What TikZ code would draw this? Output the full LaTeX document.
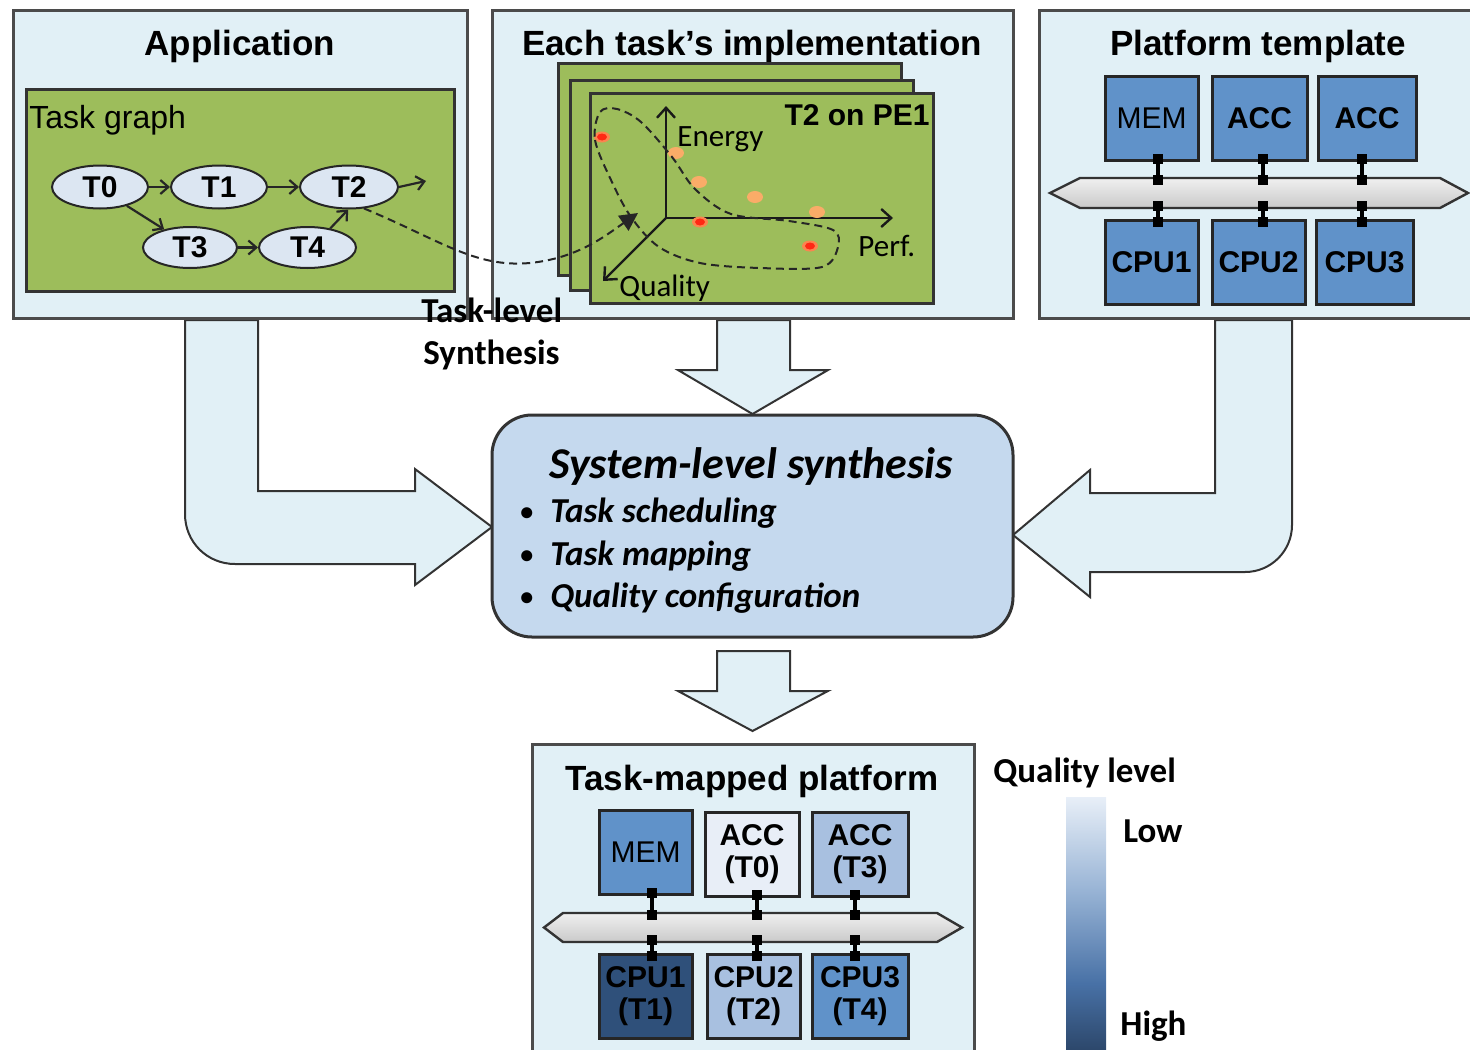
\documentclass[tikz,border=0pt]{standalone}
\usepackage{fontspec}
\setmainfont{Liberation Sans}
\newfontfamily\calib{Carlito}
\usetikzlibrary{shapes.geometric,arrows.meta,calc}

\definecolor{panelfill}{RGB}{225,240,246}
\definecolor{panelline}{RGB}{75,75,75}
\definecolor{leafgreen}{RGB}{157,189,91}
\definecolor{ellfill}{RGB}{220,230,242}
\definecolor{peblue}{RGB}{96,146,201}
\definecolor{pelight}{RGB}{232,238,247}
\definecolor{pemid}{RGB}{168,192,224}
\definecolor{pedark}{RGB}{47,80,122}
\definecolor{sysfill}{RGB}{197,217,238}
\definecolor{dotorange}{RGB}{250,172,104}
\definecolor{dotred}{RGB}{255,40,20}
\definecolor{qlow}{RGB}{232,239,248}
\definecolor{qmid}{RGB}{150,178,212}
\definecolor{qdeep}{RGB}{72,113,166}
\definecolor{qdark}{RGB}{45,72,108}

% vertical gradient of the quality scale (TikZ maps 25bp..75bp onto the path)
\pgfdeclareverticalshading{qbar}{100bp}{color(0bp)=(qdark); color(25bp)=(qdark); color(38bp)=(qdeep);
  color(56bp)=(qmid); color(75bp)=(qlow); color(100bp)=(qlow)}

\begin{document}
\begin{tikzpicture}[x=0.5pt,y=-0.5pt,
  panel/.style={draw=panelline,line width=1.5pt,fill=panelfill},
  ptitle/.style={font=\bfseries\fontsize{17.5}{20}\selectfont,inner sep=0,anchor=base},
  greenbox/.style={draw=black!80,line width=1.5pt,fill=leafgreen},
  task/.style={ellipse,draw=black!85,line width=1pt,fill=ellfill,minimum height=21.5pt,inner sep=0,
    font=\bfseries\fontsize{15}{15}\selectfont},
  tgarrow/.style={-{Straight Barb[length=4pt,width=7pt]},line width=1.1pt,black!85},
  axis/.style={-{Straight Barb[length=5pt,width=9pt]},line width=1.2pt,black!90},
  axlabel/.style={font=\calib\fontsize{15.5}{17}\selectfont,inner sep=0,anchor=base west},
  pebox/.style={draw=black!85,line width=1.5pt,fill=peblue,minimum height=42pt,inner sep=0,align=center,
    font=\bfseries\fontsize{15}{16}\selectfont},
  bus/.style={draw=black!80,line width=1.2pt,top color=gray!12,bottom color=gray!42},
  link/.style={line width=2pt,black},
  plug/.style={fill=black,minimum size=5pt,inner sep=0},
  blockarrow/.style={draw=black!80,line width=1pt,fill=panelfill,line join=miter},
  sysbox/.style={draw=black!80,line width=1.5pt,fill=sysfill,rounded corners=20pt,inner sep=0},
  sysitem/.style={font=\calib\bfseries\itshape\fontsize{17.5}{20}\selectfont,inner sep=0,anchor=base west},
  sysbullet/.style={font=\calib\bfseries\fontsize{13}{20}\selectfont,inner sep=0,anchor=base west},
  callabel/.style={font=\calib\bfseries\fontsize{17.5}{20}\selectfont,inner sep=0,anchor=base west}]

\useasboundingbox (0,0) rectangle (1470,1049);
\clip (0,0) rectangle (1470,1049);

% ---------- block arrows ----------
\draw[blockarrow] (185,320) -- (258,320) -- (258,491) -- (415,491) -- (415,469) -- (492,527)
  -- (415,585) -- (415,564) -- (235,564) .. controls (207,564) and (185,542) .. (185,514) -- cycle;
\draw[blockarrow] (1215,320) -- (1292,320) -- (1292,525) .. controls (1292,551) and (1271,572) .. (1245,572)
  -- (1090,572) -- (1090,597) -- (1013,535) -- (1090,470) -- (1090,493) -- (1215,493) -- cycle;
\draw[blockarrow] (717,320) -- (790,320) -- (790,370) -- (828,370) -- (752.5,414) -- (678,370) -- (717,370) -- cycle;
\draw[blockarrow] (717,651) -- (790,651) -- (790,691) -- (828,691) -- (752.5,731) -- (678,691) -- (717,691) -- cycle;

% ---------- Application ----------
\draw[panel] (13,10) rectangle (467,318);
\node[ptitle] (appT) at (240,55) {Application};
\draw[greenbox] (26,89) rectangle (454,291);
\node[font=\fontsize{16}{18}\selectfont,inner sep=0,anchor=base west] (tgT) at (29,128) {Task graph};
\node[task,minimum width=48pt] (T0) at (100,187) {T0};
\node[task,minimum width=48pt] (T1) at (219,187) {T1};
\node[task,minimum width=49pt] (T2) at (349,187) {T2};
\node[task,minimum width=47pt,minimum height=20.5pt] (T3) at (190,247.5) {T3};
\node[task,minimum width=48.5pt,minimum height=20.5pt] (T4) at (307.5,247.5) {T4};
\coordinate (T2out) at (426,181);
\draw[tgarrow] (T0) -- (T1);
\draw[tgarrow] (T1) -- (T2);
\draw[tgarrow] (T2.east) -- (T2out);
\draw[tgarrow] (T0.-35) -- (T3.145);
\draw[tgarrow] (T3) -- (T4);
\draw[tgarrow] (T4.40) -- (T2.-92);

% ---------- Each task's implementation ----------
\draw[panel] (492,10) rectangle (1013,318);
\node[ptitle] (implT) at (752,55) {Each task’s implementation};
\draw[greenbox] (558,63) rectangle (901,275);
\draw[greenbox] (570,80) rectangle (913,290);
\draw[greenbox] (590,93) rectangle (933,303);
\node[font=\bfseries\fontsize{15}{16}\selectfont,inner sep=0,anchor=base east] (peT) at (930,125) {T2 on PE1};
% trade-off axes
\coordinate (O) at (666,218);
\coordinate (Etip) at (666,106);
\coordinate (Ptip) at (893,218);
\coordinate (Qtip) at (603,281);
\draw[axis] (O) -- (Etip);
\draw[axis] (O) -- (Ptip);
\draw[axis] (O) -- (Qtip);
\node[axlabel] (eL) at (677,146) {Energy};
\node[axlabel] (pL) at (858,256) {Perf.};
\node[axlabel] (qL) at (619,296) {Quality};
% design points
\foreach \p in {(676,153),(699,182),(755,197),(817,212)}
  \fill[dotorange] \p ellipse (8 and 6);
\foreach \p in {(602,137),(700,222),(810,246)}{
  \fill[dotorange!70!dotred] \p ellipse (8 and 5.5);
  \fill[dotred] \p ellipse (5 and 3.5);}
% Pareto region
\draw[line width=1pt,dash pattern=on 4pt off 2.5pt,black!85]
  plot[smooth cycle,tension=0.55] coordinates {(600,112) (595,140) (611,180) (631,217) (659,247) (700,263)
    (760,268) (822,267) (838,247) (833,230) (789,221) (731,214) (695,189) (672,157) (641,122) (617,109)};
% task-level synthesis link
\coordinate (implIn) at (638,213);
\draw[line width=1pt,dash pattern=on 4pt off 2.5pt,black!85,-{Triangle[length=9pt,width=9pt]}]
  (T2.-55) .. controls (440,240) and (475,268) .. (530,263) .. controls (578,258) and (605,236) .. (implIn);

% ---------- Platform template ----------
\draw[panel] (1039,10) rectangle (1485,318);
\node[ptitle] (platT) at (1258,55) {Platform template};
\draw[bus] (1050,193) -- (1080,178) -- (1440,178) -- (1468,193) -- (1440,208) -- (1080,208) -- cycle;
\coordinate (pbN) at (1259,178);
\coordinate (pbS) at (1259,208);
\node[pebox,minimum width=46.5pt,font=\fontsize{15}{16}\selectfont] (pmem) at (1151.5,118.5) {MEM};
\node[pebox,minimum width=47.5pt] (pacc1) at (1259.5,118.5) {ACC};
\node[pebox,minimum width=49pt] (pacc2) at (1367,118.5) {ACC};
\node[pebox,minimum width=46.5pt] (pcpu1) at (1151.5,262.5) {CPU1};
\node[pebox,minimum width=46.5pt] (pcpu2) at (1258.5,262.5) {CPU2};
\node[pebox,minimum width=48.5pt] (pcpu3) at (1364.5,262.5) {CPU3};
\coordinate (pc1) at (1158,0);
\coordinate (pc2) at (1263,0);
\coordinate (pc3) at (1362,0);
\foreach \c/\u/\d in {pc1/pmem/pcpu1,pc2/pacc1/pcpu2,pc3/pacc2/pcpu3}{
  \draw[link] (\c |- \u.south) -- (\c |- pbN);
  \draw[link] (\c |- pbS) -- (\c |- \d.north);
  \node[plug] at ($(\c |- \u.south)+(0,-3)$) {};
  \node[plug] at ($(\c |- pbN)+(0,2)$) {};
  \node[plug] at ($(\c |- pbS)+(0,-2)$) {};
  \node[plug] at ($(\c |- \d.north)+(0,3)$) {};}

% ---------- label of the task-level step ----------
\node[callabel] (tl1) at (421,322) {Task-level};
\node[callabel] (tl2) at (423,364) {Synthesis};

% ---------- System-level synthesis ----------
\node[sysbox,minimum width=260.5pt,minimum height=111pt] (sys) at (752.5,526) {};
\node[font=\calib\bfseries\itshape\fontsize{22}{24}\selectfont,inner sep=0,anchor=base] (sysT) at (751,478) {System-level synthesis};
\node[sysbullet] (b1) at (520,520) {•};
\node[sysbullet] (b2) at (520,563) {•};
\node[sysbullet] (b3) at (520,605) {•};
\node[sysitem] (i1) at (550,522) {Task scheduling};
\node[sysitem] (i2) at (550,565) {Task mapping};
\node[sysitem] (i3) at (550,607) {Quality configuration};

% ---------- Task-mapped platform ----------
\draw[panel] (532,744) rectangle (974,1070);
\node[ptitle] (mapT) at (752,790) {Task-mapped platform};
\draw[bus] (544,927.5) -- (563,913) -- (937,913) -- (962,927.5) -- (937,942) -- (563,942) -- cycle;
\coordinate (mbN) at (752,913);
\coordinate (mbS) at (752,942);
\node[pebox,minimum width=46.5pt,font=\fontsize{15}{16}\selectfont] (mmem) at (645.5,852.5) {MEM};
\node[pebox,minimum width=47pt,fill=pelight] (macc1) at (752,854.5) {ACC\\(T0)};
\node[pebox,minimum width=48pt,fill=pemid] (macc2) at (860,854.5) {ACC\\(T3)};
\node[pebox,minimum width=46.5pt,fill=pedark] (mcpu1) at (645.5,996.5) {CPU1\\(T1)};
\node[pebox,minimum width=46.5pt,fill=pemid] (mcpu2) at (753.5,996.5) {CPU2\\(T2)};
\node[pebox,minimum width=48pt] (mcpu3) at (860,996.5) {CPU3\\(T4)};
\coordinate (mc1) at (652,0);
\coordinate (mc2) at (757,0);
\coordinate (mc3) at (855,0);
\foreach \c/\u/\d in {mc1/mmem/mcpu1,mc2/macc1/mcpu2,mc3/macc2/mcpu3}{
  \draw[link] (\c |- \u.south) -- (\c |- mbN);
  \draw[link] (\c |- mbS) -- (\c |- \d.north);
  \node[plug] at ($(\c |- \u.south)+(0,-3)$) {};
  \node[plug] at ($(\c |- mbN)+(0,2)$) {};
  \node[plug] at ($(\c |- mbS)+(0,-2)$) {};
  \node[plug] at ($(\c |- \d.north)+(0,3)$) {};}

% ---------- quality scale ----------
\shade[shading=qbar] (1066,797) rectangle (1106,1049);
\node[callabel] (qlT) at (993,782) {Quality level};
\node[callabel] (qlo) at (1123,842) {Low};
\node[callabel] (qhi) at (1120,1035) {High};
\end{tikzpicture}
\end{document}
